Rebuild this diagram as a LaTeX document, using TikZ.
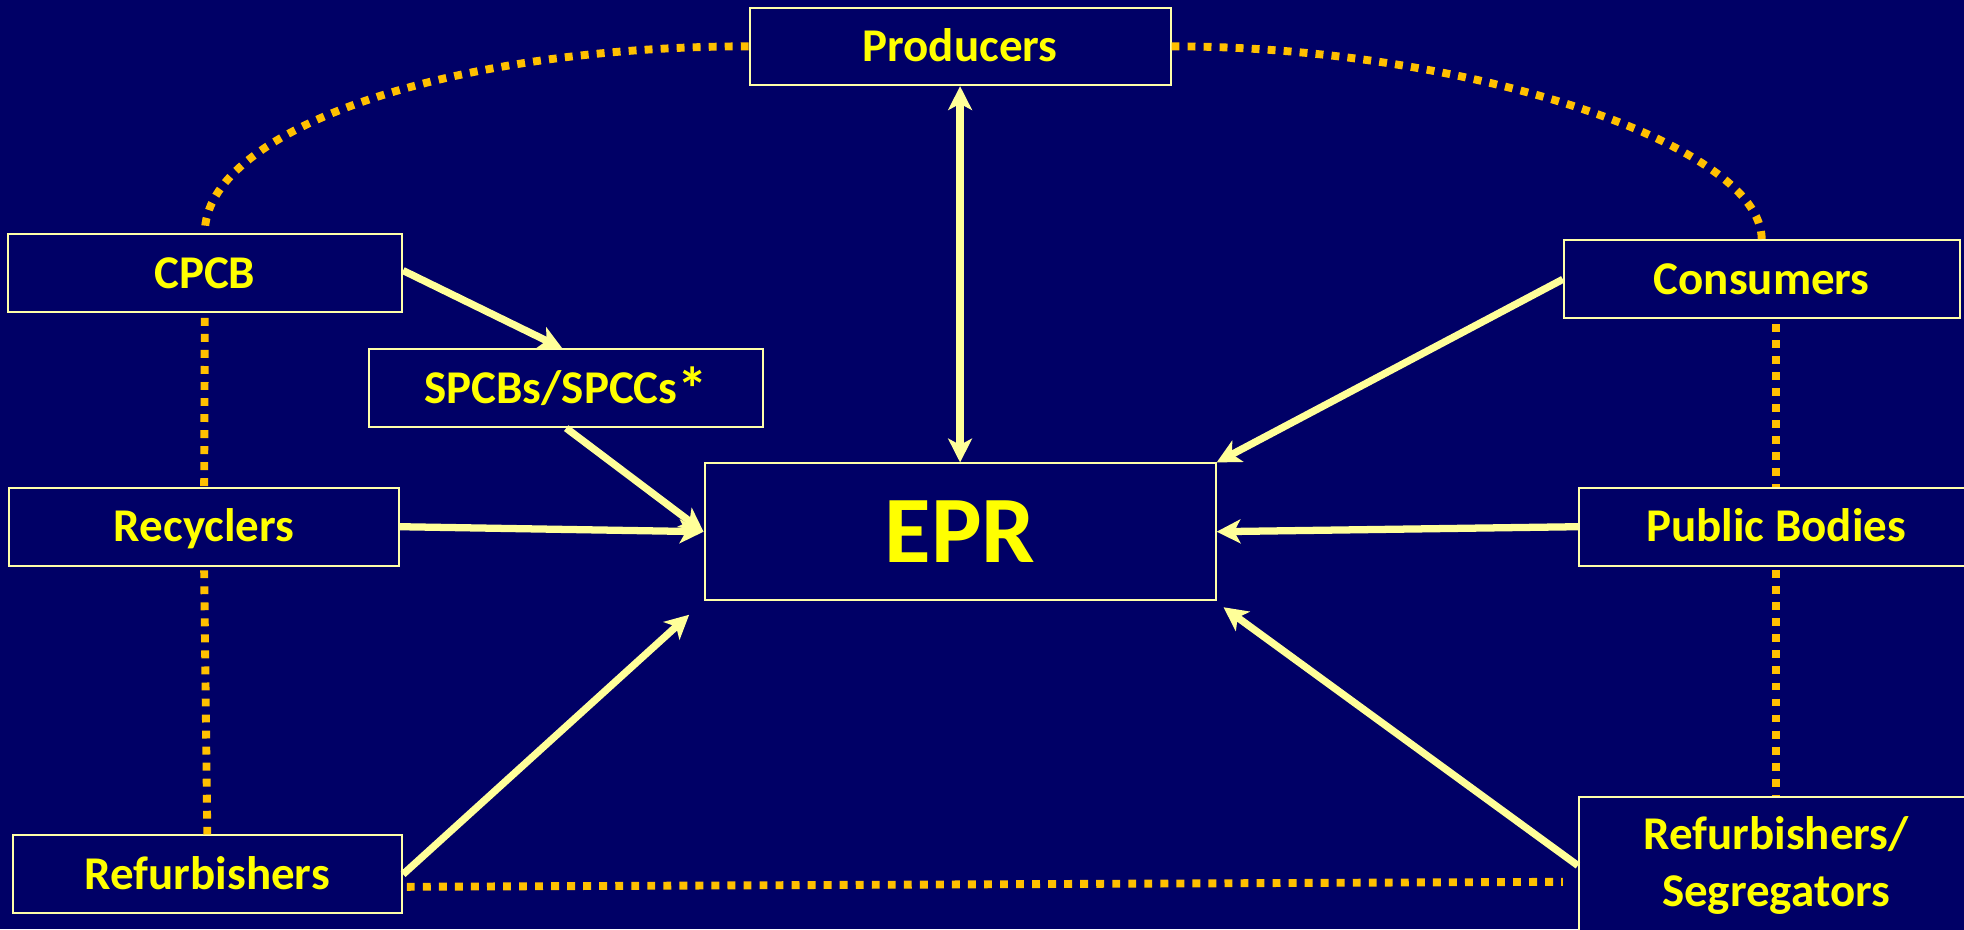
\documentclass[tikz,border=0pt]{standalone}
\usepackage{fontspec}
\setmainfont{Carlito}
\usetikzlibrary{arrows.meta,calc}
\definecolor{bg}{HTML}{000066}
\definecolor{txt}{HTML}{FFFF00}
\definecolor{arr}{HTML}{FFFF99}
\definecolor{dotc}{HTML}{FFC000}
\definecolor{edgec}{HTML}{FFFFA8}
\begin{document}
\begin{tikzpicture}[x=1pt,y=-1pt,
  >={Stealth[length=19pt,width=19pt,inset=5pt]},
  boxbase/.style={draw=edgec, fill=bg, line width=1.6pt, text=txt, inner sep=0pt,
    font=\bfseries\fontsize{37.5}{45}\selectfont, align=center},
  box/.style={boxbase, text height=24pt, text depth=0pt},
  flow/.style={draw=arr, line width=5.8pt},
  link/.style={draw=dotc, line width=6.3pt, dash pattern=on 6.3pt off 6.5pt}]
\fill[bg] (0,0) rectangle (1568,742);
\useasboundingbox (0,0) rectangle (1568,742);

\node[box, minimum width=336pt, minimum height=62pt] (prod) at (766.5,37) {Producers};
\node[box, minimum width=315pt, minimum height=62pt] (cpcb) at (163.5,218) {CPCB};
\node[box, minimum width=315pt, minimum height=62pt] (spcb) at (452,310) {SPCBs/SPCCs\raisebox{-6pt}{\scalebox{1.3}{*}}};
\node[box, minimum width=311pt, minimum height=62pt] (recy) at (163,420.5) {Recyclers};
\node[box, minimum width=311pt, minimum height=62pt] (refl) at (165.5,698) {Refurbishers};
\node[boxbase, font=\bfseries\fontsize{76}{90}\selectfont, text height=49pt, text depth=0pt,
      minimum width=408pt, minimum height=109pt] (epr) at (766.5,424.5) {EPR};
\node[box, minimum width=316pt, minimum height=62pt] (cons) at (1406.5,223) {Consumers};
\node[box, minimum width=315pt, minimum height=62pt] (pub) at (1418,420.5) {Public Bodies};
\node[boxbase, minimum width=315pt, minimum height=110pt] (refr) at (1418,691) {Refurbishers/\\Segregators};

% dotted links
\draw[link] (prod.west) .. controls (358,37) and (163.5,104) .. (cpcb.north);
\draw[link] (prod.east) .. controls (1170,37) and (1406.5,115) .. (cons.north);
\draw[link] ($(cpcb.south)+(0,4)$) -- (recy.north);
\draw[link] ($(recy.south)+(0,3)$) -- (refl.north);
\draw[link] ($(cons.south)+(11.5,4)$) -- (pub.north);
\draw[link] ($(pub.south)+(0,3)$) -- (refr.north);
\draw[link] ($(refl.east)+(3,10)$) -- ($(refr.west)+(-12,13)$);

% arrows
\draw[flow,<->] (prod.south) -- (epr.north);
\draw[flow,->] ($(cpcb.east)+(0,-2)$) -- ($(spcb.north)+(-3,0)$);
\draw[flow,->] (spcb.south) -- (epr.west);
\draw[flow,->] (recy.east) -- (epr.west);
\draw[flow,->] (refl.east) -- ($(epr.south west)+(-11.5,11)$);
\draw[flow,->] (cons.west) -- (epr.north east);
\draw[flow,->] (pub.west) -- (epr.east);
\draw[flow,->] (refr.west) -- ($(epr.south east)+(5.5,5)$);
\end{tikzpicture}
\end{document}
